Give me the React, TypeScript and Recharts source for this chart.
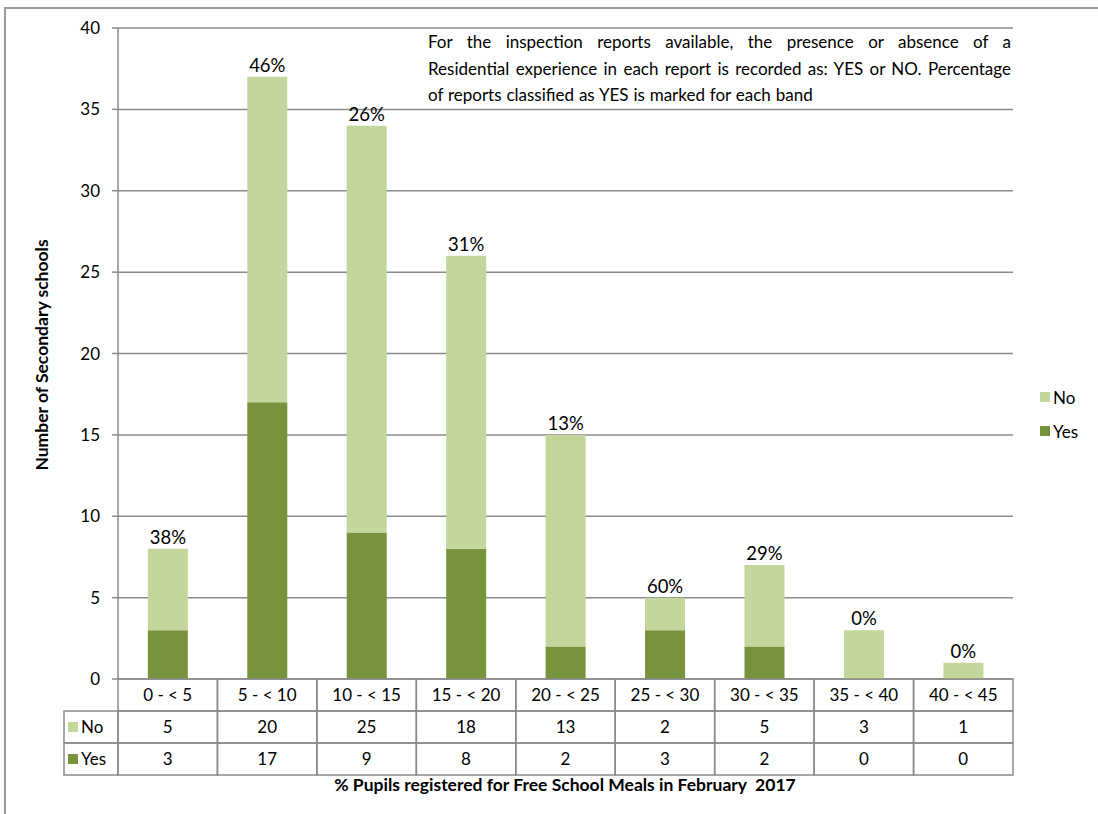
import React from "react";
import { BarChart, Bar, XAxis, YAxis, CartesianGrid, LabelList } from "recharts";

const categories = ["0 - < 5", "5 - < 10", "10 - < 15", "15 - < 20", "20 - < 25", "25 - < 30", "30 - < 35", "35 - < 40", "40 - < 45"];
const noValues = [5, 20, 25, 18, 13, 2, 5, 3, 1];
const yesValues = [3, 17, 9, 8, 2, 3, 2, 0, 0];
const pctLabels = ["38%", "46%", "26%", "31%", "13%", "60%", "29%", "0%", "0%"];
const yTicks = [0, 5, 10, 15, 20, 25, 30, 35, 40];

const LIGHT = "#C3D69B";
const DARK = "#77933C";
const GRID = "#8A8A8A";
const FONT = "Lato, 'Noto Sans', sans-serif";

const W = 1098;
const H = 814;
const MARGIN = { top: 28, right: 85, bottom: 4, left: 58 };
const Y_AXIS_W = 60;
const PLOT_W = W - MARGIN.left - MARGIN.right - Y_AXIS_W;
const BAND = PLOT_W / categories.length;
const ROW_H = 32;
const LEGEND_COL_W = 54;

const data = categories.map((c, i) => ({ cat: c, yes: yesValues[i], no: noValues[i] }));

const series = [
  { key: "no", name: "No", color: LIGHT },
  { key: "yes", name: "Yes", color: DARK },
];

const TableTick = (props: any) => {
  const { x, y, payload } = props;
  const i = payload.index;
  const left = x - BAND / 2;
  const cellStroke = { fill: "none", stroke: GRID, strokeWidth: 1.5 };
  const txt = { fontFamily: FONT, fontSize: 17, fill: "#000", textAnchor: "middle" as const };
  return (
    <g>
      <rect x={left} y={y} width={BAND} height={ROW_H} {...cellStroke} />
      <rect x={left} y={y + ROW_H} width={BAND} height={ROW_H} {...cellStroke} />
      <rect x={left} y={y + 2 * ROW_H} width={BAND} height={ROW_H} {...cellStroke} />
      <text x={x} y={y + ROW_H / 2 + 6} {...txt}>{categories[i]}</text>
      <text x={x} y={y + ROW_H * 1.5 + 6} {...txt}>{noValues[i]}</text>
      <text x={x} y={y + ROW_H * 2.5 + 6} {...txt}>{yesValues[i]}</text>
      {i === 0 && (
        <g>
          {series.map((s, r) => (
            <g key={s.key}>
              <rect x={left - LEGEND_COL_W} y={y + ROW_H * (r + 1)} width={LEGEND_COL_W} height={ROW_H} {...cellStroke} />
              <rect x={left - LEGEND_COL_W + 4} y={y + ROW_H * (r + 1.5) - 5} width={10} height={10} fill={s.color} />
              <text x={left - LEGEND_COL_W + 17} y={y + ROW_H * (r + 1.5) + 6} fontFamily={FONT} fontSize={17} fill="#000">{s.name}</text>
            </g>
          ))}
        </g>
      )}
    </g>
  );
};

const PctLabel = (props: any) => {
  const { x, y, width, index } = props;
  return (
    <text x={x + width / 2} y={y - 5} textAnchor="middle" fontFamily={FONT} fontSize={18.5} fill="#000">
      {pctLabels[index]}
    </text>
  );
};

export default function App() {
  return (
    <div style={{ position: "absolute", left: 0, top: 0, width: W, height: H, background: "#fff", overflow: "hidden" }}>
      <div style={{ position: "absolute", left: 4, top: 7, width: 1200, height: 900, borderTop: "2px solid #9a9a9a", borderLeft: "2px solid #9a9a9a" }} />
      <BarChart width={W} height={H} data={data} margin={MARGIN} barCategoryGap="30%">
        <CartesianGrid vertical={false} stroke={GRID} strokeWidth={1.5} />
        <YAxis
          width={Y_AXIS_W}
          domain={[0, 40]}
          ticks={yTicks}
          interval={0}
          tickSize={6}
          tickMargin={12}
          axisLine={{ stroke: GRID, strokeWidth: 1.5 }}
          tickLine={{ stroke: GRID, strokeWidth: 1.5 }}
          tick={{ fontFamily: FONT, fontSize: 17, fill: "#000" }}
        />
        <XAxis
          dataKey="cat"
          height={H - MARGIN.top - MARGIN.bottom - 651}
          interval={0}
          tickSize={0}
          tickMargin={0}
          axisLine={false}
          tickLine={false}
          tick={<TableTick />}
        />
        <Bar dataKey="yes" name="Yes" stackId="a" fill={DARK} isAnimationActive={false} />
        <Bar dataKey="no" name="No" stackId="a" fill={LIGHT} isAnimationActive={false}>
          <LabelList dataKey="no" content={<PctLabel />} />
        </Bar>
      </BarChart>

      <div style={{ position: "absolute", left: 428, top: 29, width: 583, fontFamily: FONT, fontSize: 17, lineHeight: "26.5px", color: "#000" }}>
        <div style={{ textAlign: "justify", textAlignLast: "justify", wordSpacing: "-1.5px" }}>For the inspection reports available, the presence or absence of a</div>
        <div style={{ textAlign: "justify", textAlignLast: "justify", wordSpacing: "-1.5px" }}>Residential experience in each report is recorded as: YES or NO. Percentage</div>
        <div style={{ wordSpacing: "0.5px" }}>of reports classified as YES is marked for each band</div>
      </div>

      <div style={{ position: "absolute", left: 1040, top: 380, fontFamily: FONT, fontSize: 17, color: "#000" }}>
        {series.map((s) => (
          <div key={s.key} style={{ display: "flex", alignItems: "center", height: 34 }}>
            <div style={{ width: 10, height: 10, background: s.color, marginRight: 3 }} />
            <span>{s.name}</span>
          </div>
        ))}
      </div>

      <div style={{ position: "absolute", left: 0, width: 1130, top: 774, textAlign: "center", fontFamily: FONT, fontSize: 17.5, fontWeight: 700, color: "#000" }}>
        % Pupils registered for Free School Meals in February&nbsp; 2017
      </div>

      <div style={{ position: "absolute", left: 41, top: 355, width: 0, height: 0 }}>
        <div style={{ position: "absolute", transform: "translate(-50%, -50%) rotate(-90deg)", whiteSpace: "nowrap", fontFamily: FONT, fontSize: 17.5, fontWeight: 700, color: "#000" }}>
          Number of Secondary schools
        </div>
      </div>
    </div>
  );
}
